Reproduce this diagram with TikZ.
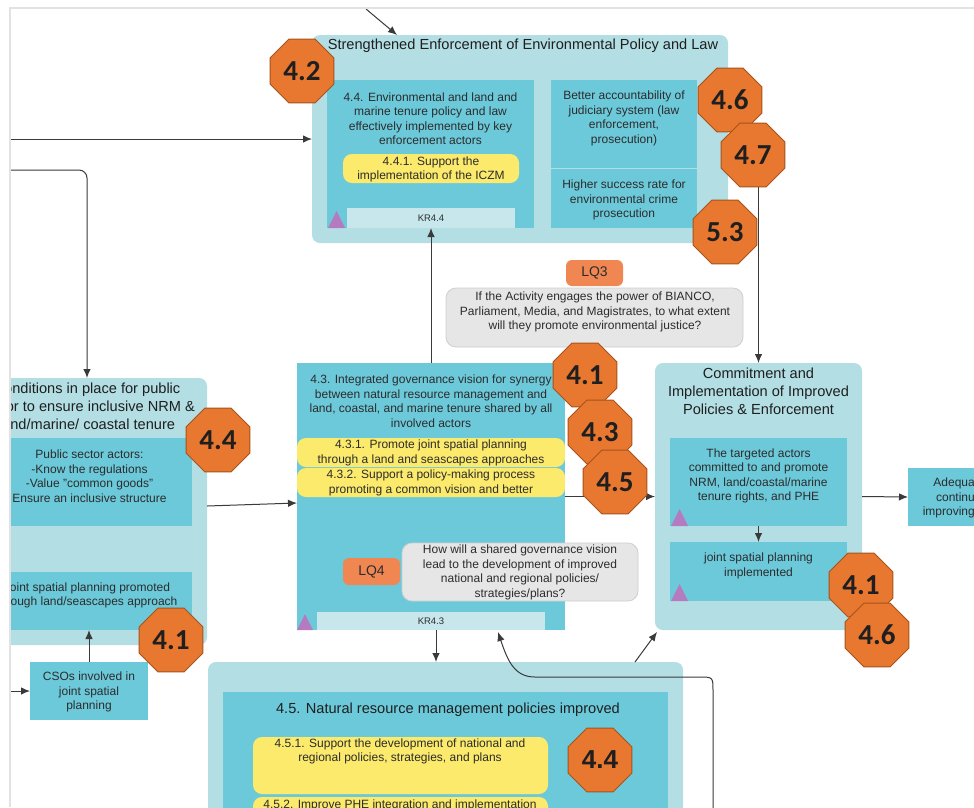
\documentclass[tikz,border=0pt]{standalone}
\usepackage{fontspec}
\setmainfont{Liberation Sans}
\newfontfamily\numfont{Carlito}
\usetikzlibrary{shapes.geometric,arrows.meta}

\definecolor{outerc}{HTML}{B3DEE4}
\definecolor{innerc}{HTML}{6CC9DA}
\definecolor{yelc}{HTML}{FBEA6C}
\definecolor{krc}{HTML}{C8E7EC}
\definecolor{tric}{HTML}{B47BC0}
\definecolor{octc}{HTML}{E8772F}
\definecolor{octd}{HTML}{A4541C}
\definecolor{lqc}{HTML}{F08652}
\definecolor{qfill}{HTML}{E6E6E6}
\definecolor{qdraw}{HTML}{CFCFCF}
\definecolor{txtc}{HTML}{2C2C2C}
\definecolor{ttlc}{HTML}{1F1F1F}
\definecolor{linec}{HTML}{3A3A3A}
\definecolor{framec}{HTML}{E2E2E2}

\newcommand{\bodyf}{\fontsize{12}{14.5}\selectfont}
\newcommand{\titlef}{\fontsize{14.6}{18}\selectfont}

% rectangle node given by its corners: style, name, x1, y1, x2, y2
\newcommand{\mkbox}[6]{%
  \node[#1, anchor=north west, minimum width={#5-#3}, minimum height={#6-#4}] (#2) at (#3,#4) {};}

\tikzset{
  outerbox/.style={fill=outerc, rounded corners=8pt, inner sep=0pt, outer sep=0pt},
  innerbox/.style={fill=innerc, inner sep=0pt, outer sep=0pt},
  yelbox/.style={fill=yelc, rounded corners=9pt, inner sep=0pt, outer sep=0pt},
  krbar/.style={fill=krc, inner sep=0pt, outer sep=0pt},
  qbox/.style={fill=qfill, draw=qdraw, line width=0.8pt, rounded corners=10pt, inner sep=0pt, outer sep=0pt},
  lqbox/.style={fill=lqc, rounded corners=6pt, inner sep=0pt, outer sep=0pt, anchor=north west,
    text=txtc, font=\fontsize{14}{16}\selectfont},
  txt/.style={text=txtc, align=center, inner sep=0pt, font=\bodyf},
  ttl/.style={text=ttlc, align=center, inner sep=0pt, font=\titlef},
  krtxt/.style={text=txtc, inner sep=0pt, font=\fontsize{9.5}{11}\selectfont},
  oct/.style={regular polygon, regular polygon sides=8, minimum size=69pt, inner sep=0pt,
    fill=octc, draw=octd, line width=0.9pt, text=black!88,
    font=\numfont\bfseries\fontsize{29}{29}\selectfont},
  conn/.style={draw=linec, line width=1pt, -{Latex[length=9pt,width=7.5pt]}},
}

\begin{document}
\begin{tikzpicture}[x=1pt,y=-1pt]
\useasboundingbox (0,0) rectangle (974,807);
\fill[white] (0,0) rectangle (974,807);

\begin{scope}
\clip (11,9) rectangle (974,807);

% ---------- Strengthened Enforcement group ----------
\mkbox{outerbox}{topOuter}{312}{35}{728}{243}
\node[ttl] (topTitle) at (523,45.5) {Strengthened Enforcement of Environmental Policy and Law};
\mkbox{innerbox}{r44}{327}{80}{534}{228}
\node[txt] (t44) at (430.5,118.5) {4.4. Environmental and land and\\marine tenure policy and law\\effectively implemented by key\\enforcement actors};
\mkbox{yelbox}{y441}{343}{154}{519}{183}
\node[txt] (t441) at (431,169.5) {4.4.1. Support the\\implementation of the ICZM};
\mkbox{krbar}{kr44}{347}{208}{515}{228}
\node[krtxt] (tkr44) at (kr44) {KR4.4};
\fill[tric] (328,228) -- (345,228) -- (336.5,211) -- cycle;
\mkbox{innerbox}{rAcc}{551}{80}{697}{168}
\node[txt] (tAcc) at (624,118.5) {Better accountability of\\judiciary system (law\\enforcement,\\prosecution)};
\mkbox{innerbox}{rHigh}{551}{169}{697}{228}
\node[txt] (tHigh) at (624,200) {Higher success rate for\\environmental crime\\prosecution};

% ---------- learning question 3 ----------
\node[lqbox, minimum width=57pt, minimum height=26pt] (lq3) at (566,260) {LQ3};
\mkbox{qbox}{q3}{446}{288}{743}{347}
\node[txt] (tq3) at (595,312) {If the Activity engages the power of BIANCO,\\Parliament, Media, and Magistrates, to what extent\\will they promote environmental justice?};

% ---------- 4.3 governance vision ----------
\mkbox{innerbox}{r43}{297}{363}{565}{630}
\node[txt] (t43) at (431,401) {4.3. Integrated governance vision for synergy\\between natural resource management and\\land, coastal, and marine tenure shared by all\\involved actors};
\mkbox{yelbox}{y431}{297}{438}{565}{467}
\node[txt] (t431) at (431,453) {4.3.1. Promote joint spatial planning\\through a land and seascapes approaches};
\mkbox{yelbox}{y432}{297}{468}{565}{497}
\node[txt] (t432) at (431,483) {4.3.2. Support a policy-making process\\promoting a common vision and better};
\node[lqbox, minimum width=57pt, minimum height=27pt] (lq4) at (343,558) {LQ4};
\mkbox{qbox}{q4}{402}{543}{638}{601}
\node[txt] (tq4) at (520,572.5) {How will a shared governance vision\\lead to the development of improved\\national and regional policies/\\strategies/plans?};
\mkbox{krbar}{kr43}{317}{612}{545}{630}
\node[krtxt] (tkr43) at (kr43) {KR4.3};
\fill[tric] (297,630) -- (313,630) -- (305,614) -- cycle;

% ---------- Commitment group ----------
\mkbox{outerbox}{rCom}{655}{363}{862}{630}
\node[ttl] (tCom) at (758.5,391) {Commitment and\\Implementation of Improved\\Policies \& Enforcement};
\mkbox{innerbox}{rTarget}{670}{438}{847}{526}
\node[txt] (tTarget) at (758.5,476) {The targeted actors\\committed to and promote\\NRM, land/coastal/marine\\tenure rights, and PHE};
\fill[tric] (671,526) -- (688,526) -- (679.5,509) -- cycle;
\mkbox{innerbox}{rJoint}{670}{542}{847}{601}
\node[txt] (tJoint) at (758.5,566) {joint spatial planning\\implemented};
\fill[tric] (671,601) -- (688,601) -- (679.5,584) -- cycle;

\mkbox{innerbox}{adq}{908}{468}{1010}{526}
\node[txt, align=right, anchor=east] (tAdq) at (975,498) {Adequa\\continu\\improving};

% ---------- Conditions group ----------
\mkbox{outerbox}{lOut}{-33}{378}{207}{645}
\node[ttl] (tL) at (87,406) {Conditions in place for public\\sector to ensure inclusive NRM \&\\land/marine/ coastal tenure};
\mkbox{innerbox}{lPub}{-16}{438}{192}{526}
\node[txt] (tPub) at (89.5,476) {Public sector actors:\\-Know the regulations\\-Value "common goods"\\Ensure an inclusive structure};
\mkbox{innerbox}{lJoint}{-18}{572}{192}{630}
\node[txt] (tLJ) at (87,595.5) {Joint spatial planning promoted\\through land/seascapes approach};
\mkbox{innerbox}{csos}{30}{662}{148}{720}
\node[txt] (tCsos) at (89,692) {CSOs involved in\\joint spatial\\planning};

% ---------- 4.5 policies group ----------
\mkbox{outerbox}{bOut}{208}{662}{683}{860}
\mkbox{innerbox}{bIn}{223}{692}{668}{860}
\node[ttl] (tB) at (448,710) {4.5. Natural resource management policies improved};
\mkbox{yelbox}{y451}{253}{737}{548}{794}
\node[txt] (t451) at (400,751.5) {4.5.1. Support the development of national and\\regional policies, strategies, and plans};
\mkbox{yelbox}{y452}{253}{797}{548}{850}
\node[txt, anchor=base] (t452) at (400,808) {4.5.2. Improve PHE integration and implementation};

% ---------- connectors ----------
\coordinate (aIn) at (366,9);
\coordinate (bIn0) at (11,139);
\coordinate (cIn) at (11,170);
\coordinate (kIn) at (11,691);
\coordinate (gSrc) at (758.5,160);
\coordinate (nSrc) at (713,830);

\draw[conn] (aIn) -- ([xshift=85pt]topOuter.north west);
\draw[conn] (bIn0) -- (topOuter.west);
\draw[conn, rounded corners=8pt] (cIn) -| (lOut.north);
\draw[conn] (r43.north) -- (kr44.south);
\draw[conn] ([yshift=5.5pt]lOut.east) -- ([yshift=-6.5pt]r43.west);
\draw[conn] (r43.east) -- (rCom.west);
\draw[conn] (gSrc) -- (rCom.north);
\draw[conn] (rTarget.south) -- (rJoint.north);
\draw[conn] (rCom.east) -- (adq.west);
\draw[conn] (csos.north) -- (csos.north |- lJoint.south);
\draw[conn] (kIn) -- (csos.west);
\draw[conn] ([xshift=5pt]r43.south) -- ([xshift=5pt]r43.south |- bOut.north);
\draw[conn] ([xshift=-48pt]bOut.north east) -- ([shift={(2,2)}]rCom.south west);
\draw[conn] (nSrc) -- (713,691) .. controls (713,677) .. (699,677) -- (535,677)
  .. controls (515,677) and (508,662) .. ([xshift=67pt,yshift=-2pt]r43.south);

% ---------- indicator badges ----------
\node[oct] (o42) at (302,71) {4.2};
\node[oct] (o46) at (730,100) {4.6};
\node[oct] (o47) at (753,155) {4.7};
\node[oct] (o53) at (725,232) {5.3};
\node[oct] (o41a) at (585,375) {4.1};
\node[oct] (o43) at (600,432) {4.3};
\node[oct] (o45) at (615,482) {4.5};
\node[oct] (o44a) at (218,440) {4.4};
\node[oct] (o41c) at (171,640) {4.1};
\node[oct] (o41b) at (861,585) {4.1};
\node[oct] (o46b) at (877,635) {4.6};
\node[oct, font=\bfseries\fontsize{26}{26}\selectfont] (o44b) at (600,760) {4.4};
\end{scope}

% page frame
\draw[framec, line width=2pt] (10,807) -- (10,8) -- (974,8);
\end{tikzpicture}
\end{document}
